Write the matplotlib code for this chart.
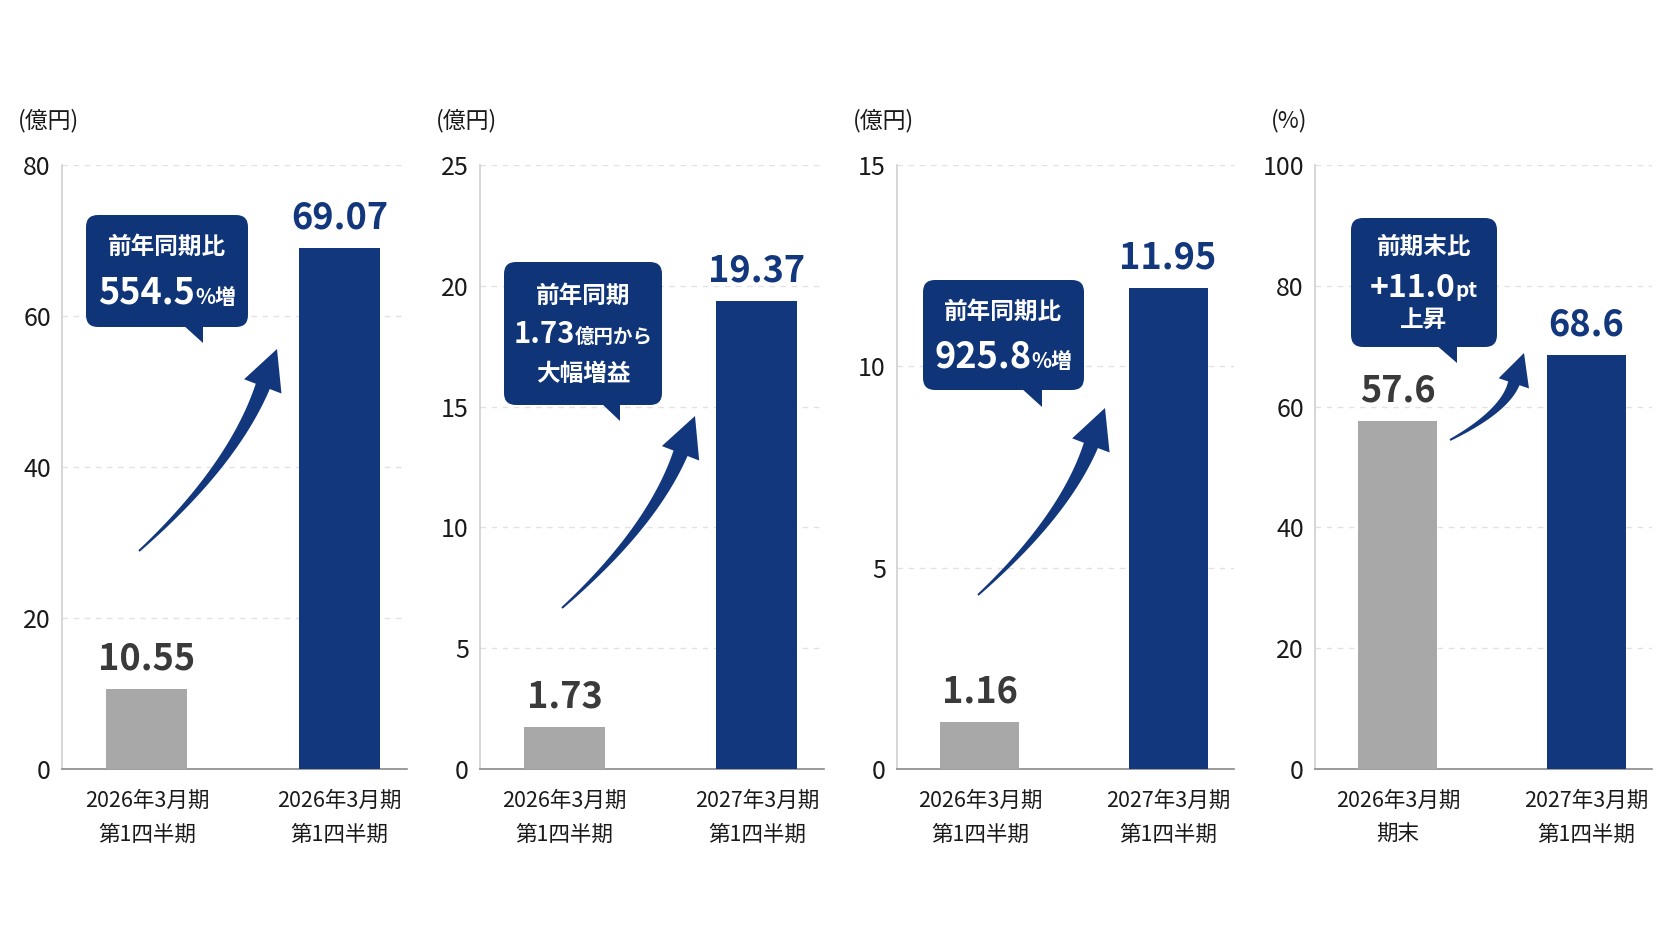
import numpy as np
import matplotlib
matplotlib.use('Agg')
import matplotlib.pyplot as plt
from matplotlib.patches import FancyBboxPatch, Polygon

plt.rcParams['font.family'] = ['Noto Sans CJK JP', 'DejaVu Sans']

# data
cats_1 = ["2026年3月期\n第1四半期", "2026年3月期\n第1四半期"]
cats_2 = ["2026年3月期\n第1四半期", "2027年3月期\n第1四半期"]
cats_3 = ["2026年3月期\n第1四半期", "2027年3月期\n第1四半期"]
cats_4 = ["2026年3月期\n期末", "2027年3月期\n第1四半期"]
vals_1 = [10.55, 69.07]
vals_2 = [1.73, 19.37]
vals_3 = [1.16, 11.95]
vals_4 = [57.6, 68.6]
decimals = [2, 2, 2, 1]
units = ["(億円)", "(億円)", "(億円)", "(%)"]
ymax = [80, 25, 15, 100]
ystep = [20, 5, 5, 20]

GRAY = '#a8a8a8'
NAVY = '#12377d'
NAVY_BOX = '#0f3478'
GRAY_TXT = '#3a3a3a'

W, H = 1672, 941
fig = plt.figure(figsize=(W / 100, H / 100), dpi=100)
fig.patch.set_facecolor('white')

lefts = [62, 480, 897, 1315]
widths = [345, 344, 337, 337]
top, bottom = 165, 769

all_cats = [cats_1, cats_2, cats_3, cats_4]
all_vals = [vals_1, vals_2, vals_3, vals_4]

for k in range(4):
    ax = fig.add_axes([lefts[k] / W, (H - bottom) / H, widths[k] / W, (bottom - top) / H])
    vals = all_vals[k]
    ax.bar([0, 1], vals, width=0.42, color=[GRAY, NAVY], zorder=3)
    ax.set_xlim(-0.44, 1.35)
    ax.set_ylim(0, ymax[k])
    ax.set_yticks(np.arange(0, ymax[k] + 1, ystep[k]))
    ax.yaxis.grid(True, linestyle=(0, (4, 4)), color='#e2e2e2', linewidth=1)
    ax.set_axisbelow(True)
    for s in ['top', 'right']:
        ax.spines[s].set_visible(False)
    ax.spines['left'].set_color('#d0d0d0')
    ax.spines['left'].set_linewidth(1.2)
    ax.spines['bottom'].set_color('#8a8a8a')
    ax.spines['bottom'].set_linewidth(1.2)
    ax.tick_params(axis='y', length=0, pad=8, labelsize=18, labelcolor='#1a1a1a')
    ax.tick_params(axis='x', length=0, pad=15, labelsize=15.5, labelcolor='#1a1a1a')
    ax.set_xticks([0, 1])
    ax.set_xticklabels(all_cats[k], linespacing=1.7)
    ax.patch.set_alpha(0)

    for i, v in enumerate(vals):
        ax.annotate(f"{v:.{decimals[k]}f}", (i, v), xytext=(0, 30), textcoords='offset pixels',
                    ha='center', va='center', fontsize=26, fontweight='bold',
                    color=GRAY_TXT if i == 0 else NAVY)
    ax.annotate(units[k], (0, 1), xycoords='axes fraction', xytext=(-44, 44),
                textcoords='offset pixels', ha='left', va='center', fontsize=16.5, color='#1a1a1a')

# overlay in pixel coordinates for callouts and arrows
ov = fig.add_axes([0, 0, 1, 1], zorder=10)
ov.set_xlim(0, W)
ov.set_ylim(H, 0)
ov.axis('off')
ov.patch.set_alpha(0)


def swoosh(tail, tip, bend, w0=2, w1=15, head_w=40, head_l=40):
    t0 = np.array(tail, float)
    t1 = np.array(tip, float)
    v = t1 - t0
    L = np.hypot(*v)
    n = np.array([-v[1], v[0]]) / L
    c = (t0 + t1) / 2 + n * bend * L
    d = (t1 - c) / np.hypot(*(t1 - c))
    neck = t1 - d * head_l
    s = np.linspace(0, 1, 80)[:, None]
    pts = (1 - s) ** 2 * t0 + 2 * (1 - s) * s * c + s ** 2 * neck
    der = 2 * (1 - s) * (c - t0) + 2 * s * (neck - c)
    der = der / np.hypot(der[:, 0], der[:, 1])[:, None]
    nrm = np.column_stack([-der[:, 1], der[:, 0]])
    w = w0 + (w1 - w0) * s[:, 0] ** 1.1
    left = pts + nrm * w[:, None] / 2
    right = pts - nrm * w[:, None] / 2
    ne = nrm[-1]
    head = [neck + ne * head_w / 2, t1, neck - ne * head_w / 2]
    poly = np.vstack([left, head, right[::-1]])
    ov.add_patch(Polygon(poly, closed=True, fc=NAVY, ec='none'))


def callout(x0, x1, y0, y1, bx0, bx1, tx, ty):
    ov.add_patch(FancyBboxPatch((x0, y0), x1 - x0, y1 - y0,
                                boxstyle='round,pad=0,rounding_size=12', fc=NAVY_BOX, ec='none'))
    ov.add_patch(Polygon([(bx0, y1 - 3), (bx1, y1 - 3), (tx, ty)], closed=True, fc=NAVY_BOX, ec='none'))


renderer = fig.canvas.get_renderer()


def mixed(cx, base, parts):
    texts = []
    for s, size in parts:
        t = ov.text(0, base, s, ha='left', va='baseline', fontsize=size,
                    fontweight='bold', color='white')
        texts.append(t)
    ws = [t.get_window_extent(renderer).width for t in texts]
    x = cx - sum(ws) / 2
    for t, wd in zip(texts, ws):
        t.set_x(x)
        x += wd


def line(cx, y, s, size=17):
    ov.text(cx, y, s, ha='center', va='center', fontsize=size, fontweight='bold', color='white')


# callouts (x relative to panel axis line)
boxes = [
    (24, 186, 215, 327, 120, 141, 141, 343),
    (24, 182, 262, 405, 120, 140, 140, 421),
    (26, 187, 280, 390, 123, 145, 145, 407),
    (36, 182, 218, 347, 120, 142, 142, 363),
]
for k, (x0, x1, y0, y1, bx0, bx1, tx, ty) in enumerate(boxes):
    L0 = lefts[k]
    callout(L0 + x0, L0 + x1, y0, y1, L0 + bx0, L0 + bx1, L0 + tx, ty)

cx = [lefts[k] + (b[0] + b[1]) / 2 for k, b in enumerate(boxes)]
line(cx[0], 247, "前年同期比")
mixed(cx[0], 304, [("554.5", 26), ("%増", 15)])
line(cx[1], 296, "前年同期")
mixed(cx[1], 343, [("1.73", 21), ("億円から", 14)])
line(cx[1], 374, "大幅増益")
line(cx[2], 312, "前年同期比")
mixed(cx[2], 368, [("925.8", 26), ("%増", 15)])
line(cx[3], 247, "前期末比")
mixed(cx[3], 297, [("+11.0", 23), ("pt", 15)])
line(cx[3], 320, "上昇")

# arrows
arrows = [
    ((77, 551), (215, 349), 0.12, 1.0),
    ((82, 608), (215, 416), 0.12, 1.0),
    ((81, 595), (208, 408), 0.12, 1.0),
    ((135, 440), (209, 353), 0.2, 0.8),
]
for k, (tail, tip, bend, sc) in enumerate(arrows):
    L0 = lefts[k]
    swoosh((L0 + tail[0], tail[1]), (L0 + tip[0], tip[1]), bend,
           w0=2, w1=15 * sc, head_w=40 * sc, head_l=40 * sc)

fig.savefig('out.png', dpi=100, facecolor='white')
